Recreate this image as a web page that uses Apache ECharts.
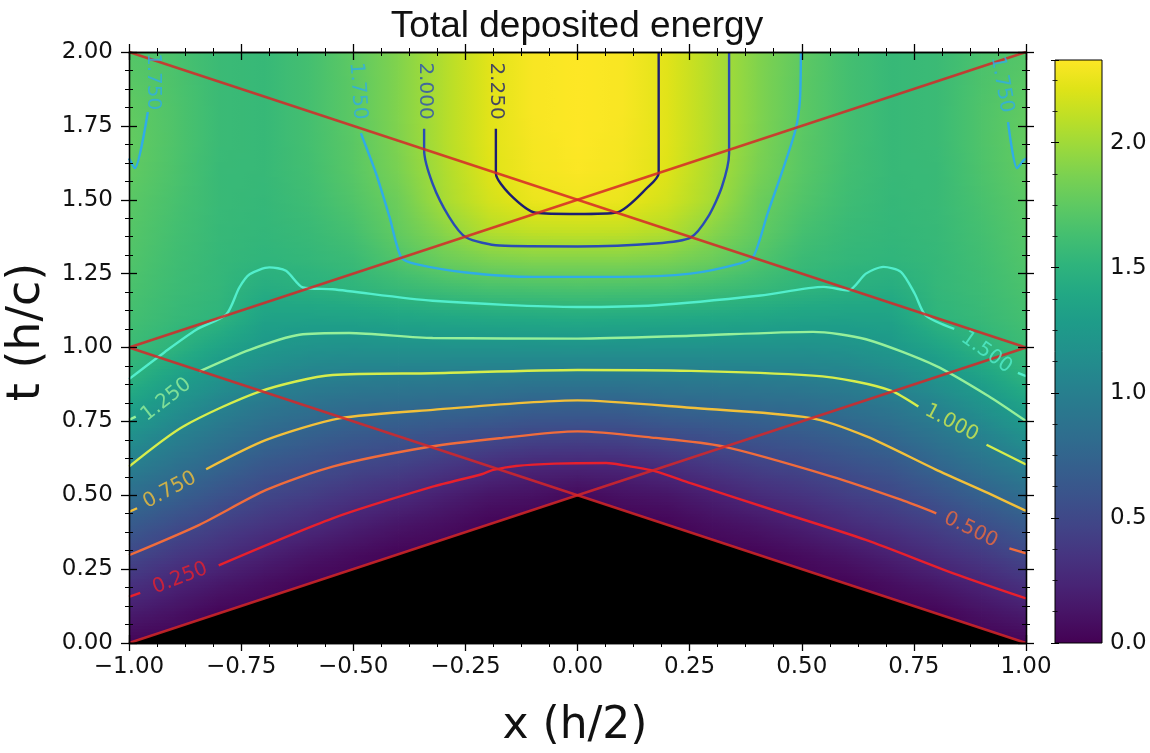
<!DOCTYPE html>
<html><head><meta charset="utf-8">
<script src="https://cdn.jsdelivr.net/npm/echarts@6.0.0/dist/echarts.min.js"></script>
<style>html,body{margin:0;padding:0;background:#fff}#c{width:1150px;height:753px}</style>
</head><body><div id="c"></div>
<script>
// ---------------- data ----------------
const xGrid = [-1,-0.9,-0.8,-0.7,-0.6,-0.5,-0.4,-0.3,-0.2,-0.1,0,0.1,0.2,0.3,0.4,0.5,0.6,0.7,0.8,0.9,1];
const tGrid = [0,0.1,0.2,0.3,0.4,0.5,0.6,0.7,0.8,0.9,1.0,1.1,1.2,1.3,1.4,1.5,1.6,1.7,1.8,1.9,2.0];
// deposited energy, one row per t value (x from -1 to 1)
const energyT00 = [0.02,0,0,0,0,0,0,0,0,0,0,0,0,0,0,0,0,0,0,0,0.02];
const energyT01 = [0.17,0.10,0.02,0,0,0,0,0,0,0,0,0,0,0,0,0,0,0,0.02,0.10,0.17];
const energyT02 = [0.33,0.235,0.15,0.08,0.02,0,0,0,0,0,0,0,0,0,0,0,0.02,0.08,0.15,0.235,0.33];
const energyT03 = [0.50,0.385,0.30,0.21,0.13,0.07,0.02,0,0,0,0,0,0,0,0.02,0.07,0.13,0.21,0.30,0.385,0.50];
const energyT04 = [0.66,0.54,0.435,0.35,0.28,0.20,0.13,0.08,0.02,0,0,0,0.02,0.08,0.13,0.20,0.28,0.35,0.435,0.54,0.66];
const energyT05 = [0.83,0.715,0.59,0.487,0.42,0.34,0.28,0.20,0.13,0.10,0.05,0.10,0.13,0.20,0.28,0.34,0.42,0.487,0.59,0.715,0.83];
const energyT06 = [0.995,0.87,0.75,0.625,0.56,0.49,0.44,0.37,0.30,0.245,0.235,0.245,0.30,0.37,0.44,0.49,0.56,0.625,0.75,0.87,0.995];
const energyT07 = [1.16,1.015,0.89,0.78,0.705,0.645,0.61,0.56,0.52,0.477,0.465,0.477,0.52,0.56,0.61,0.645,0.705,0.78,0.89,1.015,1.16];
const energyT08 = [1.33,1.17,1.03,0.92,0.86,0.81,0.79,0.77,0.75,0.705,0.70,0.705,0.75,0.77,0.79,0.81,0.86,0.92,1.03,1.17,1.33];
const energyT09 = [1.50,1.33,1.19,1.08,1.02,0.99,0.975,0.965,0.955,0.94,0.94,0.94,0.955,0.965,0.975,0.99,1.02,1.08,1.19,1.33,1.50];
const energyT10 = [1.58,1.50,1.35,1.24,1.18,1.16,1.17,1.17,1.17,1.175,1.18,1.175,1.17,1.17,1.17,1.16,1.18,1.24,1.35,1.50,1.58];
const energyT11 = [1.63,1.56,1.51,1.34,1.33,1.34,1.365,1.385,1.40,1.41,1.42,1.41,1.40,1.385,1.365,1.34,1.33,1.34,1.51,1.56,1.63];
const energyT12 = [1.66,1.59,1.54,1.44,1.47,1.51,1.56,1.605,1.64,1.65,1.66,1.65,1.64,1.605,1.56,1.51,1.47,1.44,1.54,1.59,1.66];
const energyT13 = [1.69,1.61,1.55,1.52,1.54,1.58,1.69,1.80,1.87,1.90,1.90,1.90,1.87,1.80,1.69,1.58,1.54,1.52,1.55,1.61,1.69];
const energyT14 = [1.71,1.63,1.56,1.54,1.57,1.64,1.77,1.92,2.07,2.12,2.13,2.12,2.07,1.92,1.77,1.64,1.57,1.54,1.56,1.63,1.71];
const energyT15 = [1.73,1.65,1.57,1.55,1.60,1.69,1.81,2.02,2.17,2.26,2.28,2.26,2.17,2.02,1.81,1.69,1.60,1.55,1.57,1.65,1.73];
const energyT16 = [1.76,1.67,1.57,1.56,1.62,1.72,1.86,2.04,2.21,2.29,2.32,2.29,2.21,2.04,1.86,1.72,1.62,1.56,1.57,1.67,1.76];
const energyT17 = [1.77,1.68,1.58,1.56,1.63,1.73,1.88,2.06,2.22,2.30,2.33,2.30,2.22,2.06,1.88,1.73,1.63,1.56,1.58,1.68,1.77];
const energyT18 = [1.76,1.68,1.58,1.56,1.63,1.74,1.89,2.06,2.22,2.31,2.33,2.31,2.22,2.06,1.89,1.74,1.63,1.56,1.58,1.68,1.76];
const energyT19 = [1.73,1.67,1.58,1.56,1.63,1.74,1.89,2.06,2.22,2.31,2.33,2.31,2.22,2.06,1.89,1.74,1.63,1.56,1.58,1.67,1.73];
const energyT20 = [1.70,1.66,1.58,1.56,1.63,1.75,1.89,2.06,2.22,2.31,2.33,2.31,2.22,2.06,1.89,1.75,1.63,1.56,1.58,1.66,1.70];
const energy = [energyT00,energyT01,energyT02,energyT03,energyT04,energyT05,energyT06,energyT07,energyT08,energyT09,energyT10,
                energyT11,energyT12,energyT13,energyT14,energyT15,energyT16,energyT17,energyT18,energyT19,energyT20];
const colorMin = 0, colorMax = 2.33;
const colorTicks = [0.0, 0.5, 1.0, 1.5, 2.0];

// light-cone lines and the excluded region
const coneA = [[-1,2],[1,1]];
const coneB = [[-1,1],[1,2]];
const coneC = [[-1,1],[1,0]];
const coneD = [[-1,0],[1,1]];
const excludedEdge = [[-1,0],[0,0.5],[1,0]];

// contour levels and traced contour segments [x, t]
const levels = [0.25,0.5,0.75,1.0,1.25,1.5,1.75,2.0,2.25];
const c025a = [[-1,0.156],[-0.975,0.17]];
const c025b = [[-0.80,0.263],[-0.546,0.422],[-0.323,0.529],[-0.212,0.572],[-0.19,0.585],[-0.137,0.599],[-0.05,0.607],[0.064,0.609],[0.10,0.602],[0.174,0.581],[0.252,0.541],[0.447,0.445],[0.643,0.349],[0.838,0.236],[1,0.151]];
const c050a = [[-1,0.297],[-0.843,0.40],[-0.694,0.518],[-0.546,0.597],[-0.33,0.664],[-0.174,0.693],[0,0.716],[0.174,0.694],[0.322,0.666],[0.565,0.564],[0.721,0.485],[0.80,0.439]];
const c050b = [[0.963,0.32],[1,0.303]];
const c075a = [[-1,0.444],[-0.982,0.456]];
const c075b = [[-0.828,0.588],[-0.694,0.687],[-0.531,0.76],[-0.323,0.789],[0,0.821],[0.252,0.796],[0.518,0.762],[0.643,0.70],[0.799,0.587],[0.916,0.507],[1,0.447]];
const c100a = [[-1,0.597],[-0.88,0.732],[-0.709,0.851],[-0.546,0.907],[-0.323,0.913],[0,0.924],[0.252,0.921],[0.525,0.905],[0.62,0.885],[0.70,0.853],[0.76,0.80]];
const c100b = [[0.912,0.671],[1,0.604]];
const c125a = [[-1,0.755],[-0.985,0.766]];
const c125b = [[-0.843,0.919],[-0.731,0.992],[-0.62,1.043],[-0.509,1.049],[-0.323,1.032],[0,1.03],[0.252,1.04],[0.525,1.053],[0.643,1.028],[0.799,0.938],[0.916,0.836],[1,0.751]];
const c150a = [[-1,0.893],[-0.92,0.985],[-0.85,1.06],[-0.783,1.112],[-0.754,1.203],[-0.731,1.248],[-0.687,1.271],[-0.65,1.26],[-0.612,1.203],[-0.546,1.197],[-0.323,1.158],[0,1.137],[0.174,1.143],[0.408,1.176],[0.549,1.205],[0.604,1.193],[0.643,1.25],[0.682,1.273],[0.721,1.256],[0.752,1.182],[0.776,1.109],[0.84,1.063]];
const c150b = [[0.982,0.914],[1,0.903]];
const c175a = [[-0.483,1.725],[-0.449,1.588],[-0.419,1.441],[-0.393,1.305],[-0.36,1.282],[-0.249,1.254],[-0.1,1.239],[0.095,1.239],[0.252,1.25],[0.361,1.284],[0.392,1.307],[0.424,1.454],[0.455,1.589],[0.486,1.736],[0.496,1.838],[0.498,2.0]];
const c175b = [[-0.958,1.797],[-0.987,1.607],[-1,1.64]];
const c175c = [[0.96,1.763],[0.98,1.607],[0.995,1.634],[1,1.64]];
const c200a = [[-0.342,1.74],[-0.342,1.668],[-0.323,1.554],[-0.286,1.441],[-0.249,1.373],[-0.174,1.345],[0,1.342],[0.174,1.352],[0.252,1.372],[0.291,1.442],[0.322,1.544],[0.338,1.657],[0.338,2.0]];
const c225a = [[-0.182,1.74],[-0.182,1.59],[-0.152,1.52],[-0.093,1.456],[0,1.452],[0.088,1.457],[0.158,1.544],[0.181,1.59],[0.181,2.0]];
const contourSegments = [[0,c025a],[0,c025b],[1,c050a],[1,c050b],[2,c075a],[2,c075b],[3,c100a],[3,c100b],
  [4,c125a],[4,c125b],[5,c150a],[5,c150b],[6,c175a],[6,c175b],[6,c175c],[7,c200a],[8,c225a]];

// inline contour labels
const labelText  = ['0.250','0.500','0.750','1.000','1.250','1.500','1.750','2.000','2.250','1.750','1.750'];
const labelLevel = [0,1,2,3,4,5,6,7,8,6,6];
const labelX     = [-0.886,0.877,-0.909,0.834,-0.917,0.912,-0.49,-0.34,-0.182,-0.945,0.946];
const labelT     = [0.219,0.383,0.517,0.745,0.823,0.983,1.868,1.868,1.868,1.90,1.89];

// ---------------- styles ----------------
const labelRotation = [21,-26,28,-28,38,-35,-86,-90,-90,-90,-80];
const contourColors = ['#e8202c','#f06c3c','#f2c03a','#d6ee4c','#96f09a','#52eecc','#30ace6','#2a4cb4','#1c1e72'];
const VIRIDIS = ['#440154','#471365','#482475','#463480','#414487','#3b528b','#355f8d','#2f6c8e','#2a788e','#25848e',
  '#21918c','#1e9c89','#22a884','#2fb47c','#44bf70','#5ec962','#7ad151','#9bd93c','#bddf26','#dfe318','#fde725'];
const VIR_RGB = VIRIDIS.map(h => [parseInt(h.slice(1,3),16),parseInt(h.slice(3,5),16),parseInt(h.slice(5,7),16)]);
function vcolor(v){
  let f = Math.max(0, Math.min(1, (v - colorMin)/(colorMax - colorMin))) * (VIR_RGB.length - 1);
  let i = Math.floor(f); if (i >= VIR_RGB.length - 1) i = VIR_RGB.length - 2;
  const r = f - i, a = VIR_RGB[i], b = VIR_RGB[i+1];
  return 'rgb(' + Math.round(a[0]+(b[0]-a[0])*r) + ',' + Math.round(a[1]+(b[1]-a[1])*r) + ',' + Math.round(a[2]+(b[2]-a[2])*r) + ')';
}

const cells = [];
for (let j = 0; j < tGrid.length - 1; j++)
  for (let i = 0; i < xGrid.length - 1; i++)
    cells.push([(xGrid[i]+xGrid[i+1])/2, (tGrid[j]+tGrid[j+1])/2, i, j]);

function renderCell(params, api){
  const i = api.value(2), j = api.value(3);
  const pA = api.coord([xGrid[i], tGrid[j]]);
  const pB = api.coord([xGrid[i+1], tGrid[j+1]]);
  const x0 = pA[0], x1 = pB[0], yBot = pA[1], yTop = pB[1];
  const v00 = energy[j][i], v10 = energy[j][i+1], v01 = energy[j+1][i], v11 = energy[j+1][i+1];
  const S = 10, h = (yBot - yTop)/S, children = [];
  for (let k = 0; k < S; k++){
    const f = (k + 0.5)/S;
    const vl = v00 + (v01 - v00)*f, vr = v10 + (v11 - v10)*f;
    const stops = [];
    for (let q = 0; q <= 4; q++){ const g = q/4; stops.push({offset:g, color:vcolor(vl + (vr - vl)*g)}); }
    children.push({type:'rect', silent:true,
      shape:{x:x0, y:yBot - (k+1)*h, width:x1 - x0 + 0.8, height:h + 0.8},
      style:{fill:new echarts.graphic.LinearGradient(0,0,1,0,stops)}});
  }
  return {type:'group', children};
}

function renderBar(params, api){
  const pA = api.coord([0, colorMin]), pB = api.coord([1, colorMax]);
  const stops = VIRIDIS.map((c, k) => ({offset:k/(VIRIDIS.length-1), color:c}));
  return {type:'rect', shape:{x:pA[0], y:pB[1], width:pB[0]-pA[0], height:pA[1]-pB[1]},
    style:{fill:new echarts.graphic.LinearGradient(0,1,0,0,stops), stroke:'#000', lineWidth:1}};
}

const tickFont = {fontFamily:'DejaVu Sans', fontSize:23, color:'#111'};
const fmt2 = v => (v < 0 ? '\u2212' : '') + Math.abs(v).toFixed(2);
const lineSt = {color:'#000', width:1.3};
function mkAxis(grid, pos, inside, labels, range, isX){
  return {gridIndex:grid, type:'value', min:range[0], max:range[1], interval:0.25, position:pos, z:10,
    axisLine:{show:true, onZero:false, lineStyle:lineSt},
    axisTick:{show:true, inside:inside, length:8, lineStyle:lineSt},
    minorTick:{show:true, splitNumber:4, length:4, lineStyle:{color:'#000', width:1}},
    axisLabel:Object.assign({show:labels, margin:isX ? 13 : 16, formatter:fmt2}, tickFont),
    splitLine:{show:false}, minorSplitLine:{show:false}};
}
const cbFormatter = v => (Math.abs(v/0.5 - Math.round(v/0.5)) < 1e-6 && colorTicks.indexOf(Math.round(v*10)/10) >= 0) ? v.toFixed(1) : '';
function mkBarAxis(grid, inside, labels){
  return {gridIndex:grid, type:'value', min:colorMin, max:colorMax, interval:0.5, position:'right', z:10,
    axisLine:{show:false},
    axisTick:{show:true, inside:inside, length:4, lineStyle:{color:'#000', width:1}},
    minorTick:{show:true, splitNumber:4, length:2.5, lineStyle:{color:'#000', width:0.8}},
    axisLabel:Object.assign({show:labels, margin:8, formatter:cbFormatter, showMaxLabel:false}, tickFont),
    splitLine:{show:false}};
}

const plotRect = {left:129, top:52, width:897, height:591, containLabel:false, outerBoundsMode:'none'};
const barRect  = {left:1055, top:60, width:47, height:583, containLabel:false, outerBoundsMode:'none'};

const series = [];
series.push({type:'custom', xAxisIndex:0, yAxisIndex:0, z:1, silent:true, data:cells, renderItem:renderCell,
  encode:{x:0, y:1}, animation:false});
series.push({type:'line', xAxisIndex:0, yAxisIndex:0, z:2, data:excludedEdge, symbol:'none', silent:true,
  lineStyle:{width:0}, areaStyle:{color:'#000', opacity:1, origin:'start'}});
contourSegments.forEach(([li, seg]) => series.push({type:'line', xAxisIndex:0, yAxisIndex:0, z:3, data:seg,
  symbol:'none', smooth:0.25, silent:true, lineStyle:{color:contourColors[li], width:2.4}}));
[coneA, coneB, coneC, coneD].forEach(seg => series.push({type:'line', xAxisIndex:0, yAxisIndex:0, z:4, data:seg,
  symbol:'none', silent:true, lineStyle:{color:'rgba(214,39,40,0.85)', width:2.4}}));
series.push({type:'scatter', xAxisIndex:0, yAxisIndex:0, z:5, symbolSize:1, silent:true,
  itemStyle:{color:'rgba(0,0,0,0)'},
  data:labelText.map((txt, k) => ({name:txt, value:[labelX[k], labelT[k]],
    label:{rotate:labelRotation[k], color:contourColors[labelLevel[k]]}})),
  label:{show:true, position:'inside', formatter:'{b}', fontFamily:'DejaVu Sans', fontSize:20}});
series.push({type:'custom', xAxisIndex:4, yAxisIndex:4, z:1, silent:true, data:[[0.5, 1]], renderItem:renderBar, encode:{x:0, y:1}});

const option = {
  animation:false, backgroundColor:'#fff',
  grid:[plotRect, Object.assign({}, plotRect), barRect, Object.assign({}, barRect)],
  xAxis:[mkAxis(0,'bottom',false,true,[-1,1],true), mkAxis(0,'top',false,false,[-1,1],true),
         mkAxis(1,'bottom',true,false,[-1,1],true), mkAxis(1,'top',true,false,[-1,1],true),
         {gridIndex:2, type:'value', min:0, max:1, show:false}, {gridIndex:3, type:'value', min:0, max:1, show:false}],
  yAxis:[mkAxis(0,'left',false,true,[0,2],false), mkAxis(0,'right',false,false,[0,2],false),
         mkAxis(1,'left',true,false,[0,2],false), mkAxis(1,'right',true,false,[0,2],false),
         mkBarAxis(2,false,true), mkBarAxis(3,true,false)],
  graphic:[
    {type:'text', x:577, y:27, style:{text:'Total deposited energy', font:'37px "Liberation Sans"', fill:'#111', align:'center', verticalAlign:'middle'}},
    {type:'text', x:575, y:727, style:{text:'x (h/2)', font:'44px "DejaVu Sans"', fill:'#111', align:'center', verticalAlign:'middle'}},
    {type:'text', x:27, y:332, rotation:Math.PI/2, style:{text:'t (h/c)', font:'46px "DejaVu Sans"', fill:'#111', align:'center', verticalAlign:'middle'}}
  ],
  series
};
const chart = echarts.init(document.getElementById('c'), null, {renderer:'canvas'});
chart.setOption(option);
</script></body></html>
